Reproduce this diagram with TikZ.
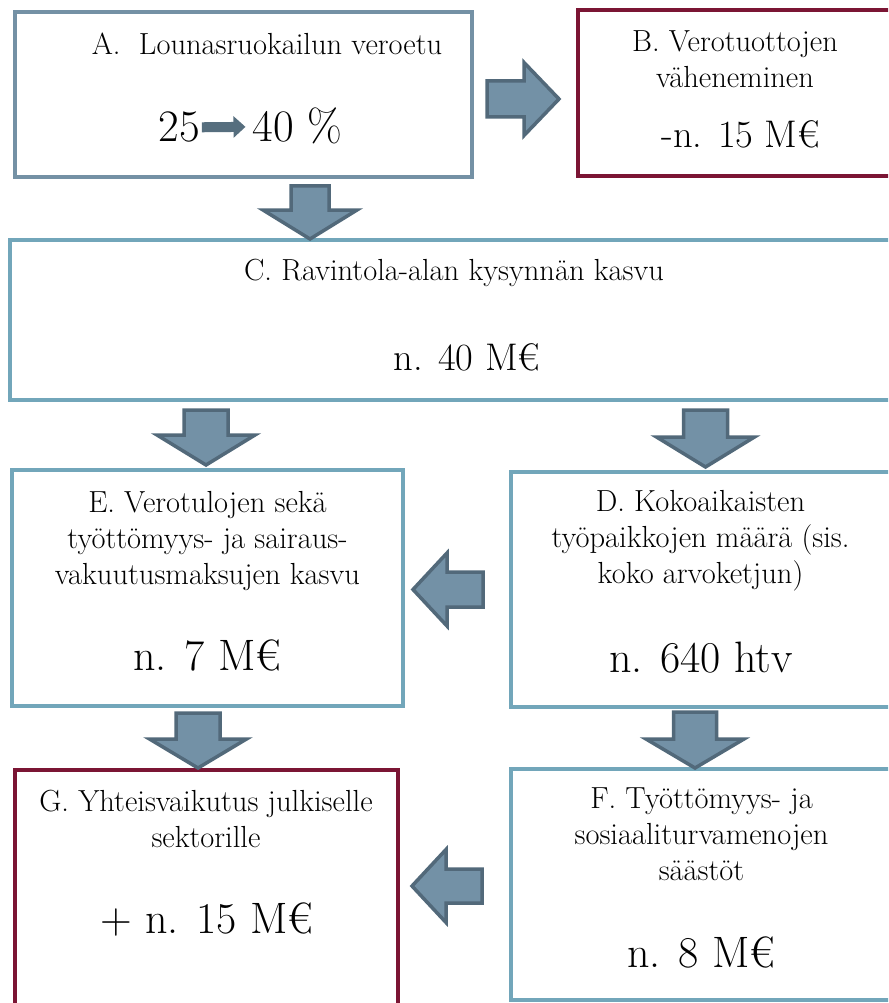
\documentclass[tikz,border=0pt]{standalone}
\usepackage{tikz}
\usetikzlibrary{calc,arrows.meta}
\definecolor{boxgray}{HTML}{7491A5}
\definecolor{boxred}{HTML}{7B1534}
\definecolor{boxblue}{HTML}{72A6BA}
\definecolor{arrfill}{HTML}{7391A6}
\definecolor{arrline}{HTML}{52697A}
\definecolor{smallarr}{HTML}{566E7E}
\tikzset{bx/.style={draw,rectangle,line width=4pt,inner sep=0pt},
  txt/.style={inner sep=0pt,align=center,font=\fontsize{30.5}{36}\selectfont},
  val/.style={inner sep=0pt,font=\fontsize{#1}{#1}\selectfont},
  val/.default=44,
  pics/blk/.style args={#1/#2/#3/#4}{code={
    \draw[fill=arrfill,draw=arrline,line width=3.5pt,line join=miter]
      (0,{-#2/2}) -- ({#1-#4},{-#2/2}) -- ({#1-#4},{-#3/2}) -- (#1,0)
      -- ({#1-#4},{#3/2}) -- ({#1-#4},{#2/2}) -- (0,{#2/2}) -- cycle;}}}

\begin{document}
\begin{tikzpicture}[x=1pt,y=-1pt]
        \useasboundingbox (0,0) rectangle (888,1003);
        \fill[white] (0,0) rectangle (888,1003);
        \clip (0,0) rectangle (888,1003);

        % boxes
        \node[bx,boxgray,minimum width=457pt,minimum height=165pt] (A) at (243.5,94.5) {};
        \node[bx,boxred,minimum width=318pt,minimum height=166pt] (B) at (737,93) {};
        \node[bx,boxblue,minimum width=886pt,minimum height=160pt] (C) at (453,320) {};
        \node[bx,boxblue,minimum width=391pt,minimum height=236pt] (E) at (207.5,588) {};
        \node[bx,boxblue,minimum width=385pt,minimum height=235pt] (D) at (703.5,589.5) {};
        \node[bx,boxred,minimum width=383pt,minimum height=236pt] (G) at (206.5,888) {};
        \node[bx,boxblue,minimum width=385pt,minimum height=231pt] (F) at (703.5,884.5) {};

        % block arrows
        \pic at ($(A.east)+(13,4.5)$) {blk=72/36/73/35};
        \pic[rotate=-90] at ($(A.south)+(66.5,7)$) {blk=53/38/94/29};
        \pic[rotate=-90] at ($(C.south -| E.north)+(-1.5,8)$) {blk=55/44/98/30};
        \pic[rotate=-90] at ($(C.south -| D.north)+(2,8)$) {blk=57/44/98/30};
        \pic[rotate=180] at ($(D.west)+(-26,0)$) {blk=70/35/73/34};
        \pic[rotate=-90] at ($(E.south -| G.north)+(-8.5,5)$) {blk=55/44/97/29};
        \pic[rotate=-90] at ($(D.south -| F.north)+(-8.5,3)$) {blk=56/43/98/29};
        \pic[rotate=180] at ($(F.west)+(-27,1.5)$) {blk=70/34/73/34};

        % texts
        \node[txt,anchor=base] (tA) at (267,55) {A.\ \ Lounasruokailun veroetu};
        \node[val=45,anchor=base] (n25) at (179,142) {25};
        \node[val=45,anchor=base] (n40) at (297.5,142) {40 \%};
        \draw[line width=10pt,smallarr,-{Triangle[length=12pt,width=21pt]},shorten <=2pt,shorten >=7pt] (n25) -- (n40);

        \node[txt] (tB) at (735,59) {B. Verotuottojen\\väheneminen};
        \node[val=38.5,anchor=base] (vB) at (741,148) {-n. 15 M€};

        \node[txt,anchor=base] (tC) at (454,280) {C. Ravintola-alan kysynnän kasvu};
        \node[val=38.5,anchor=base] (vC) at (467,370) {n. 40 M€};

        \node[txt] (tE) at (207.5,541) {E. Verotulojen sekä\\työttömyys- ja sairaus-\\vakuutusmaksujen kasvu};
        \node[val,anchor=base] (vE) at (207.5,670) {n. 7 M€};

        \node[txt] (tD) at (700.5,541) {D. Kokoaikaisten\\työpaikkojen määrä (sis.\\koko arvoketjun)};
        \node[val,anchor=base] (vD) at (701,672) {n. 640 htv};

        \node[txt] (tG) at (206,818.5) {G. Yhteisvaikutus julkiselle\\sektorille};
        \node[val,anchor=base] (vG) at (207,933) {+ n. 15 M€};

        \node[txt] (tF) at (701.5,834) {F. Työttömyys- ja\\sosiaaliturvamenojen\\säästöt};
        \node[val,anchor=base] (vF) at (701.5,967) {n. 8 M€};
\end{tikzpicture}
\end{document}
